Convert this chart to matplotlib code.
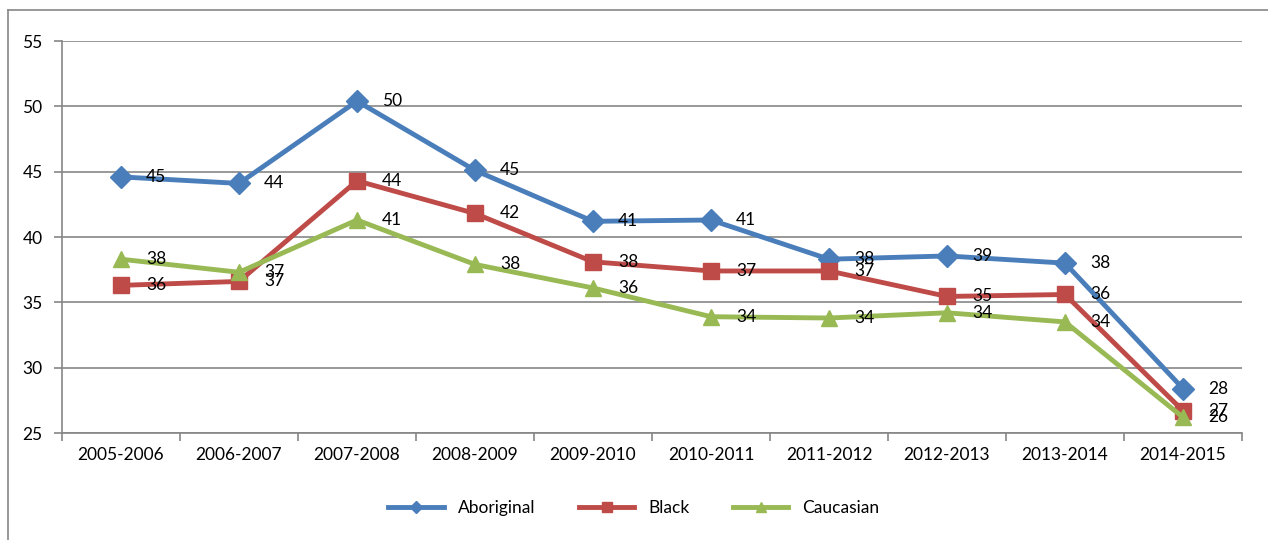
import matplotlib.pyplot as plt
from matplotlib.lines import Line2D

plt.rcParams['font.family'] = ['Lato', 'DejaVu Sans']

years = ["2005-2006", "2006-2007", "2007-2008", "2008-2009", "2009-2010",
         "2010-2011", "2011-2012", "2012-2013", "2013-2014", "2014-2015"]
aboriginal = [44.6, 44.1, 50.4, 45.1, 41.2, 41.3, 38.3, 38.55, 38.0, 28.4]
black = [36.3, 36.6, 44.3, 41.8, 38.1, 37.4, 37.4, 35.45, 35.6, 26.7]
caucasian = [38.3, 37.3, 41.3, 37.9, 36.1, 33.9, 33.8, 34.2, 33.5, 26.2]

series = [
    ("Aboriginal", aboriginal, "#4A7EBB", "D", 11),
    ("Black", black, "#BE4B48", "s", 12),
    ("Caucasian", caucasian, "#98B954", "^", 12),
]

fig = plt.figure(figsize=(12.68, 5.4), dpi=100)
ax = fig.add_axes([62 / 1268, 1 - 433 / 540, 1180 / 1268, 392 / 540])

x = list(range(len(years)))
for name, vals, color, marker, ms in series:
    ax.plot(x, vals, color=color, lw=3.5, marker=marker, markersize=ms,
            label=name, zorder=3)
    for xi, v in zip(x, vals):
        ax.annotate(str(int(round(v))), (xi, v), xytext=(18, 0),
                    textcoords="offset points", va="center", ha="left",
                    fontsize=12.5, color="black", zorder=4)

ax.set_xlim(-0.5, len(years) - 0.5)
ax.set_ylim(25, 55)
ax.set_yticks(range(25, 56, 5))
ax.set_xticks(x)
ax.set_xticklabels(years)
ax.set_xticks([i - 0.5 for i in range(len(years) + 1)], minor=True)
ax.tick_params(axis="x", which="major", length=0, labelsize=12.5, pad=10)
ax.tick_params(axis="x", which="minor", length=6, color="#868686", width=1.2)
ax.tick_params(axis="y", length=6, color="#868686", width=1.2, labelsize=12.5, pad=8)
ax.grid(axis="y", color="#868686", lw=1.2, zorder=0)
for side in ["top", "right"]:
    ax.spines[side].set_visible(False)
for side in ["left", "bottom"]:
    ax.spines[side].set_color("#868686")
    ax.spines[side].set_linewidth(1.2)

ax.legend(loc="center", bbox_to_anchor=(0.5, (540 - 508) / 540), bbox_transform=fig.transFigure,
          ncol=3, frameon=False, fontsize=12.5, handlelength=3.2, columnspacing=2.5,
          markerscale=0.6)

# outer chart frame
fig.add_artist(Line2D([8 / 1268, 8 / 1268], [0, 1 - 10 / 540], color="#868686", lw=1.2))
fig.add_artist(Line2D([8 / 1268, 1], [1 - 10 / 540, 1 - 10 / 540], color="#868686", lw=1.2))

fig.savefig("out.png", dpi=100)
